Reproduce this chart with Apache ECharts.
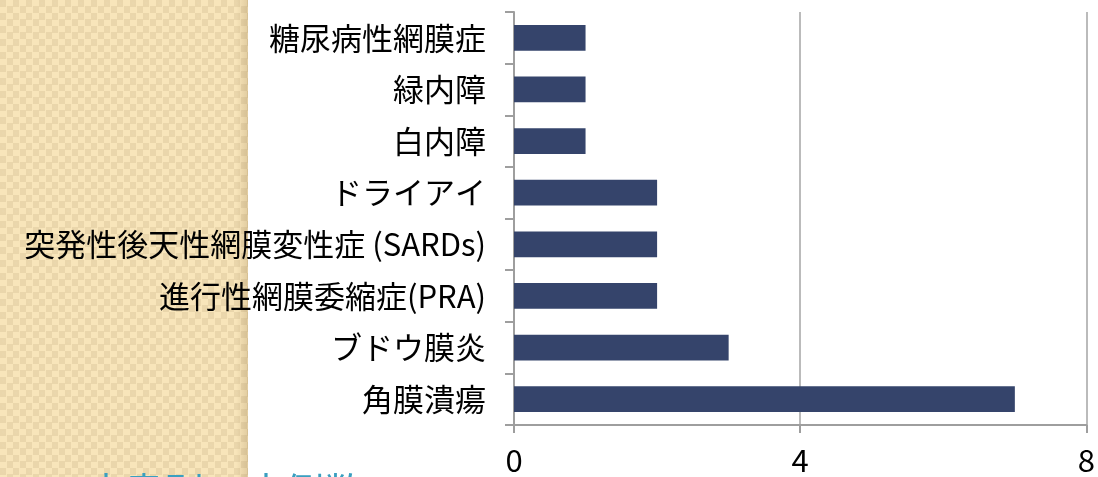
<!DOCTYPE html>
<html>
<head>
<meta charset="utf-8">
<script src="https://cdn.jsdelivr.net/npm/echarts@6/dist/echarts.min.js"></script>
<style>
  html, body { margin: 0; padding: 0; background: #fff; }
  #wrap { position: relative; width: 1098px; height: 477px; overflow: hidden; }
  #panel {
    position: absolute; left: 0; top: 0; width: 248px; height: 477px;
    background:
      linear-gradient(to right, rgba(0,0,0,0) 236px, rgba(120,90,40,0.18) 248px),
      radial-gradient(circle at 3.25px 3.25px, #ead7ad 1px, rgba(0,0,0,0) 1.3px) 0 0 / 13px 13px,
      repeating-conic-gradient(#f8e5ba 0 25%, #ead6ab 0 50%) 0 0 / 13px 13px;
  }
  #chart { position: absolute; left: 0; top: 0; width: 1098px; height: 477px; }
</style>
</head>
<body>
<div id="wrap">
  <div id="panel"></div>
  <div id="chart"></div>
</div>
<script>
const categories = ['角膜潰瘍', 'ブドウ膜炎', '進行性網膜委縮症(PRA)', '突発性後天性網膜変性症 (SARDs)', 'ドライアイ', '白内障', '緑内障', '糖尿病性網膜症'];
const counts = [7, 3, 2, 2, 2, 1, 1, 1];
const xTicks = [0, 4, 8];

const chart = echarts.init(document.getElementById('chart'));

const labelFont = '"Gill Sans", "Noto Sans CJK JP", "Noto Sans", sans-serif';

chart.setOption({
  animation: false,
  grid: { left: 514, right: 10, top: 12, bottom: 52 },
  xAxis: {
    type: 'value',
    min: xTicks[0],
    max: xTicks[xTicks.length - 1],
    interval: 4,
    axisLine: { show: true, lineStyle: { color: '#9e9e9e', width: 2 } },
    axisTick: { show: true, length: 8, lineStyle: { color: '#9e9e9e', width: 2 } },
    splitLine: { show: true, lineStyle: { color: '#a4a4a4', width: 1.5 } },
    axisLabel: { color: '#000', fontSize: 31, margin: 20, fontFamily: labelFont }
  },
  yAxis: {
    type: 'category',
    data: categories,
    axisLine: { show: true, lineStyle: { color: '#9e9e9e', width: 2 } },
    axisTick: { show: true, length: 9, lineStyle: { color: '#9e9e9e', width: 2 } },
    axisLabel: { color: '#000', fontSize: 31, margin: 28, fontFamily: labelFont }
  },
  series: [{
    type: 'bar',
    data: counts,
    barWidth: '50%',
    itemStyle: { color: '#35446b' }
  }],
  graphic: [{
    type: 'text',
    left: 84,
    top: 472,
    style: {
      text: '疾患別の症例数',
      fill: '#3a9fc0',
      fontSize: 40,
      fontFamily: '"Noto Sans CJK JP", sans-serif'
    }
  }]
});
</script>
</body>
</html>
